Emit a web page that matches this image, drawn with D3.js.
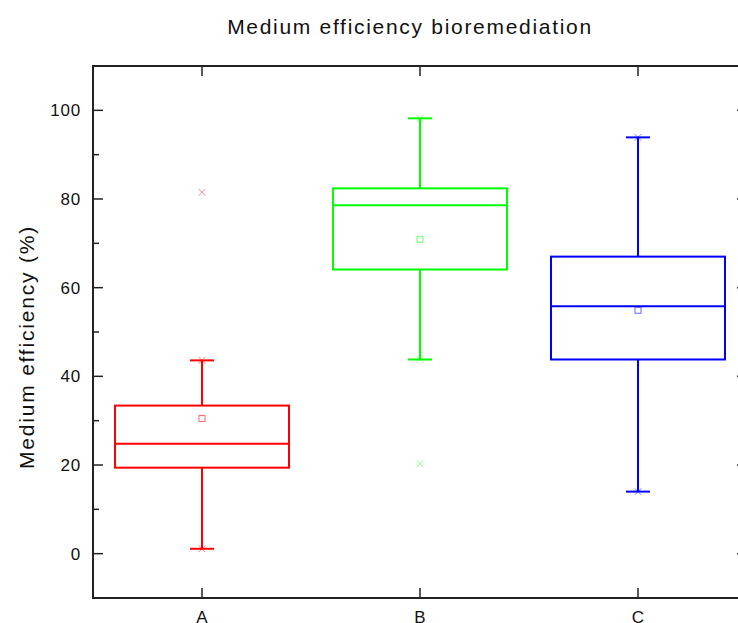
<!DOCTYPE html>
<html>
<head><script src="https://d3js.org/d3.v7.min.js"></script></head>
<body style="margin:0;background:#fff">
<svg id="chart" width="738" height="623"></svg>
<script>
// Box statistics
var groups = ["A", "B", "C"];
var colors = ["#ff0000", "#00ff00", "#0000ff"];
var whiskerLow = [1.1, 43.8, 14.0];
var q1 = [19.4, 64.1, 43.8];
var median = [24.8, 78.6, 55.8];
var q3 = [33.4, 82.4, 67.0];
var whiskerHigh = [43.6, 98.2, 93.9];
var means = [30.5, 70.9, 54.9];
var outliers = [[81.5], [20.3], []];
var yTicks = [0, 20, 40, 60, 80, 100];

var svg = d3.select("#chart");
var plotLeft = 93, plotRight = 747, plotTop = 66, plotBottom = 598;

var x = d3.scalePoint().domain(groups).range([plotLeft, plotRight]).padding(0.5);
var y = d3.scaleLinear().domain([-10, 110]).range([plotBottom, plotTop]);

var font = "'Liberation Sans', Arial, sans-serif";

// frame
svg.append("rect").attr("x", plotLeft).attr("y", plotTop)
  .attr("width", plotRight - plotLeft).attr("height", plotBottom - plotTop)
  .attr("fill", "none").attr("stroke", "#222").attr("stroke-width", 2);

// ticks (inward) on all four sides
var minor = d3.range(-10, 111, 20);
function tickSet(vals, len, side) {
  vals.forEach(function(v) {
    var l = svg.append("line").attr("stroke", "#222").attr("stroke-width", 1.5);
    if (side == "left") l.attr("x1", plotLeft).attr("x2", plotLeft + len).attr("y1", y(v)).attr("y2", y(v));
    if (side == "right") l.attr("x1", plotRight).attr("x2", plotRight - len).attr("y1", y(v)).attr("y2", y(v));
  });
}
tickSet(yTicks, 10, "left"); tickSet(minor, 6, "left");
tickSet(yTicks, 10, "right"); tickSet(minor, 6, "right");
groups.forEach(function(g) {
  svg.append("line").attr("stroke", "#222").attr("stroke-width", 1.5)
    .attr("x1", x(g)).attr("x2", x(g)).attr("y1", plotBottom).attr("y2", plotBottom - 10);
  svg.append("line").attr("stroke", "#222").attr("stroke-width", 1.5)
    .attr("x1", x(g)).attr("x2", x(g)).attr("y1", plotTop).attr("y2", plotTop + 10);
  svg.append("text").attr("x", x(g)).attr("y", 623).attr("text-anchor", "middle")
    .style("font-family", font).style("font-size", "17px").attr("fill", "#111").text(g);
});
yTicks.forEach(function(v) {
  svg.append("text").attr("x", 81).attr("y", y(v) + 6).attr("text-anchor", "end")
    .style("font-family", font).style("font-size", "17px").style("letter-spacing", "0.8px")
    .attr("fill", "#111").text(v);
});

// boxes
var halfBox = 87, halfCap = 12;
groups.forEach(function(g, i) {
  var cx = x(g), c = colors[i];
  var gg = svg.append("g").attr("stroke", c).attr("fill", "none").attr("stroke-width", 2);
  gg.append("line").attr("x1", cx).attr("x2", cx).attr("y1", y(q3[i])).attr("y2", y(whiskerHigh[i]));
  gg.append("line").attr("x1", cx).attr("x2", cx).attr("y1", y(q1[i])).attr("y2", y(whiskerLow[i]));
  gg.append("line").attr("x1", cx - halfCap).attr("x2", cx + halfCap).attr("y1", y(whiskerHigh[i])).attr("y2", y(whiskerHigh[i]));
  gg.append("line").attr("x1", cx - halfCap).attr("x2", cx + halfCap).attr("y1", y(whiskerLow[i])).attr("y2", y(whiskerLow[i]));
  gg.append("rect").attr("x", cx - halfBox).attr("y", y(q3[i]))
    .attr("width", 2 * halfBox).attr("height", y(q1[i]) - y(q3[i]));
  gg.append("line").attr("x1", cx - halfBox).attr("x2", cx + halfBox).attr("y1", y(median[i])).attr("y2", y(median[i]));
  // mean square
  svg.append("rect").attr("x", cx - 3).attr("y", y(means[i]) - 3).attr("width", 6).attr("height", 6)
    .attr("fill", "none").attr("stroke", c).attr("stroke-width", 1).attr("opacity", 0.6);
  // x markers at min/max and outliers
  var marks = [whiskerLow[i], whiskerHigh[i]].concat(outliers[i]);
  marks.forEach(function(v) {
    svg.append("path").attr("d", d3.symbol(d3.symbolX, 30)())
      .attr("transform", "translate(" + cx + "," + y(v) + ")")
      .attr("stroke", c).attr("stroke-width", 1).attr("opacity", 0.5);
  });
});

// title and y label
svg.append("text").attr("x", 410).attr("y", 34).attr("text-anchor", "middle")
  .style("font-family", font).style("font-size", "21px").style("letter-spacing", "1.7px")
  .attr("fill", "#111").text("Medium efficiency bioremediation");
svg.append("text").attr("transform", "translate(34,347) rotate(-90)").attr("text-anchor", "middle")
  .style("font-family", font).style("font-size", "21px").style("letter-spacing", "1.8px")
  .attr("fill", "#111").text("Medium efficiency (%)");
</script>
</body>
</html>
